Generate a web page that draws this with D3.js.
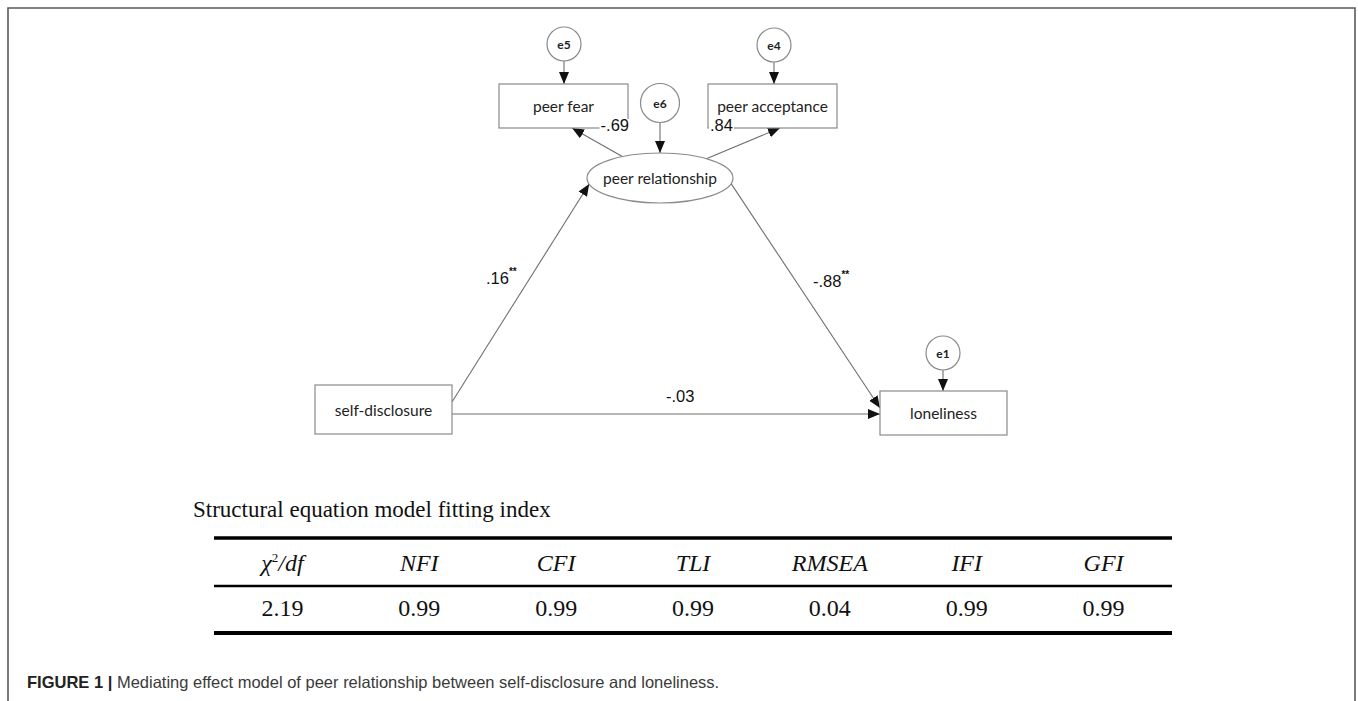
<!DOCTYPE html>
<html>
<head>
<meta charset="utf-8">
<script src="https://cdn.jsdelivr.net/npm/d3@7"></script>
<style>
  html, body { margin: 0; padding: 0; background: #fff; }
  svg { display: block; }
</style>
</head>
<body>
<svg id="chart" width="1358" height="701"></svg>
<script>
// ---------------- DATA ----------------
const observedVars = ["peer fear", "peer acceptance", "self-disclosure", "loneliness"];
const latentVars = ["peer relationship"];
const errorTerms = ["e5", "e4", "e6", "e1"];
const errorTargets = ["peer fear", "peer acceptance", "peer relationship", "loneliness"];
const pathFrom = ["peer relationship", "peer relationship", "self-disclosure", "peer relationship", "self-disclosure"];
const pathTo = ["peer fear", "peer acceptance", "peer relationship", "loneliness", "loneliness"];
const pathCoef = [-0.69, 0.84, 0.16, -0.88, -0.03];
const pathSig = ["", "", "**", "**", ""];

const tableTitle = "Structural equation model fitting index";
const fitIndexNames = ["χ2/df", "NFI", "CFI", "TLI", "RMSEA", "IFI", "GFI"];
const fitIndexValues = ["2.19", "0.99", "0.99", "0.99", "0.04", "0.99", "0.99"];
const captionBold = "FIGURE 1 |";
const captionText = " Mediating effect model of peer relationship between self-disclosure and loneliness.";

// ---------------- LAYOUT (positions / styles) ----------------
const boxLayout = {
  "peer fear":       { x: 499, y: 84,  w: 129, h: 44 },
  "peer acceptance": { x: 708, y: 84,  w: 129, h: 44 },
  "self-disclosure": { x: 315, y: 385, w: 137, h: 49 },
  "loneliness":      { x: 880, y: 391, w: 127, h: 44 }
};
const ellipseLayout = { "peer relationship": { cx: 660, cy: 178, rx: 73, ry: 25 } };
const errorLayout = {
  e5: { cx: 564, cy: 44, r: 17 },
  e4: { cx: 774, cy: 45, r: 17 },
  e6: { cx: 660, cy: 103, r: 19.5 },
  e1: { cx: 943, cy: 353, r: 17 }
};
const pathAnchors = [
  { s: { type: "ellipseToward", tx: 572, ty: 128 }, e: { side: "bottom", at: 73 }, label: { x: 629, y: 131, anchor: "end" } },
  { s: { type: "ellipseToward", tx: 780, ty: 128 }, e: { side: "bottom", at: 72 }, label: { x: 710, y: 131, anchor: "start" } },
  { s: { side: "right", at: 17 }, e: { type: "ellipseAngle", deg: 166 }, label: { x: 486, y: 284, anchor: "start" } },
  { s: { type: "ellipseAngle", deg: 13 }, e: { side: "left", at: 17 }, label: { x: 813, y: 287, anchor: "start" } },
  { s: { side: "right", at: 29 }, e: { side: "left", at: 23 }, label: { x: 666, y: 402, anchor: "start" } }
];

const W = 1358, H = 701;
const svg = d3.select("#chart");
const lineColor = "#6e6e6e";
const boxStroke = "#8a8a8a";
const nodeFont = "Lato, 'Open Sans', sans-serif";
const numFont = "'Liberation Sans', Arial, sans-serif";
const serif = "'Liberation Serif', 'Times New Roman', serif";

// frame
svg.append("path")
  .attr("d", d3.line()([[8, H], [8, 8], [1355, 8], [1355, H]]))
  .attr("fill", "none").attr("stroke", "#5a5a5a").attr("stroke-width", 1.6);

// arrow marker
const defs = svg.append("defs");
defs.append("marker")
  .attr("id", "arrow").attr("markerUnits", "userSpaceOnUse")
  .attr("viewBox", "0 -6 12 12").attr("refX", 12).attr("refY", 0)
  .attr("markerWidth", 12).attr("markerHeight", 12).attr("orient", "auto")
  .append("path").attr("d", "M0,-5L12,0L0,5Z").attr("fill", "#111");

function anchorPoint(name, spec) {
  if (boxLayout[name]) {
    const b = boxLayout[name];
    if (spec.side === "bottom") return [b.x + spec.at, b.y + b.h];
    if (spec.side === "top") return [b.x + spec.at, b.y];
    if (spec.side === "left") return [b.x, b.y + spec.at];
    if (spec.side === "right") return [b.x + b.w, b.y + spec.at];
  }
  const el = ellipseLayout[name];
  if (spec.type === "ellipseAngle") {
    const a = spec.deg * Math.PI / 180;
    return [el.cx + el.rx * Math.cos(a), el.cy + el.ry * Math.sin(a)];
  }
  if (spec.type === "ellipseToward") {
    const dx = spec.tx - el.cx, dy = spec.ty - el.cy;
    const t = 1 / Math.sqrt((dx / el.rx) ** 2 + (dy / el.ry) ** 2);
    return [el.cx + dx * t, el.cy + dy * t];
  }
}

const gPaths = svg.append("g");
pathFrom.forEach((f, i) => {
  const p0 = anchorPoint(f, pathAnchors[i].s);
  const p1 = anchorPoint(pathTo[i], pathAnchors[i].e);
  gPaths.append("path")
    .attr("d", d3.line()([p0, p1]))
    .attr("stroke", lineColor).attr("stroke-width", 1.1).attr("fill", "none")
    .attr("marker-end", "url(#arrow)");
});

errorTerms.forEach((e, i) => {
  const c = errorLayout[e];
  const target = errorTargets[i];
  let ty;
  if (boxLayout[target]) ty = boxLayout[target].y;
  else ty = ellipseLayout[target].cy - ellipseLayout[target].ry;
  gPaths.append("path")
    .attr("d", d3.line()([[c.cx, c.cy + c.r], [c.cx, ty]]))
    .attr("stroke", lineColor).attr("stroke-width", 1.1)
    .attr("marker-end", "url(#arrow)");
});

const gNodes = svg.append("g");
observedVars.forEach(n => {
  const b = boxLayout[n];
  gNodes.append("rect").attr("x", b.x).attr("y", b.y).attr("width", b.w).attr("height", b.h)
    .attr("fill", "#fff").attr("stroke", boxStroke).attr("stroke-width", 1.2);
  gNodes.append("text").attr("x", b.x + b.w / 2).attr("y", b.y + b.h / 2)
    .attr("text-anchor", "middle").attr("dominant-baseline", "central")
    .attr("font-family", nodeFont).attr("font-size", 15.5).attr("fill", "#222").text(n);
});
latentVars.forEach(n => {
  const el = ellipseLayout[n];
  gNodes.append("ellipse").attr("cx", el.cx).attr("cy", el.cy).attr("rx", el.rx).attr("ry", el.ry)
    .attr("fill", "#fff").attr("stroke", boxStroke).attr("stroke-width", 1.2);
  gNodes.append("text").attr("x", el.cx).attr("y", el.cy)
    .attr("text-anchor", "middle").attr("dominant-baseline", "central")
    .attr("font-family", nodeFont).attr("font-size", 15.5).attr("fill", "#222").text(n);
});
errorTerms.forEach(e => {
  const c = errorLayout[e];
  gNodes.append("circle").attr("cx", c.cx).attr("cy", c.cy).attr("r", c.r)
    .attr("fill", "#fff").attr("stroke", boxStroke).attr("stroke-width", 1.2);
  gNodes.append("text").attr("x", c.cx).attr("y", c.cy)
    .attr("text-anchor", "middle").attr("dominant-baseline", "central")
    .attr("font-family", nodeFont).attr("font-weight", 700).attr("font-size", 12).attr("fill", "#222").text(e);
});

const fmt = v => (v < 0 ? "-" : "") + d3.format(".2f")(Math.abs(v)).replace(/^0/, "");
const gLab = svg.append("g");
pathCoef.forEach((v, i) => {
  const L = pathAnchors[i].label;
  const t = gLab.append("text").attr("x", L.x).attr("y", L.y)
    .attr("text-anchor", L.anchor)
    .attr("font-family", numFont).attr("font-size", 16.5).attr("fill", "#111");
  t.append("tspan").text(fmt(v));
  if (pathSig[i]) t.append("tspan").attr("dy", -9).attr("font-size", 10).attr("font-weight", 700).text(pathSig[i]);
  const bb = t.node().getBBox();
  gLab.insert("rect", () => t.node())
    .attr("x", bb.x - 1).attr("y", bb.y + 3).attr("width", bb.width + 2).attr("height", bb.height - 4)
    .attr("fill", "#fff");
});

// ---------------- TABLE ----------------
svg.append("text").attr("x", 193).attr("y", 517)
  .attr("font-family", serif).attr("font-size", 23).attr("fill", "#111").text(tableTitle);

const tx = d3.scaleBand().domain(fitIndexNames).range([214, 1172]);
const tableLines = [{ y: 538, w: 3.6 }, { y: 586, w: 2.4 }, { y: 633, w: 4 }];
svg.append("g").selectAll("line").data(tableLines).join("line")
  .attr("x1", tx.range()[0]).attr("x2", tx.range()[1])
  .attr("y1", d => d.y).attr("y2", d => d.y)
  .attr("stroke", "#000").attr("stroke-width", d => d.w);

const hdr = svg.append("g").selectAll("text").data(fitIndexNames).join("text")
  .attr("x", d => tx(d) + tx.bandwidth() / 2).attr("y", 571)
  .attr("text-anchor", "middle").attr("font-family", serif).attr("font-style", "italic")
  .attr("font-size", 24).attr("fill", "#111");
hdr.each(function (d) {
  const t = d3.select(this);
  if (d === "χ2/df") {
    t.append("tspan").text("χ");
    t.append("tspan").attr("font-size", 13).attr("dy", -9).attr("font-style", "normal").text("2");
    t.append("tspan").attr("dy", 9).text("/df");
  } else t.text(d);
});

svg.append("g").selectAll("text").data(fitIndexValues).join("text")
  .attr("x", (d, i) => tx(fitIndexNames[i]) + tx.bandwidth() / 2).attr("y", 616)
  .attr("text-anchor", "middle").attr("font-family", serif)
  .attr("font-size", 24).attr("fill", "#111").text(d => d);

// caption
const cap = svg.append("text").attr("x", 27).attr("y", 688)
  .attr("font-family", numFont).attr("font-size", 16.5).attr("fill", "#3a3a3a");
cap.append("tspan").attr("font-weight", 700).attr("fill", "#222").text(captionBold);
cap.append("tspan").text(captionText);
</script>
</body>
</html>
